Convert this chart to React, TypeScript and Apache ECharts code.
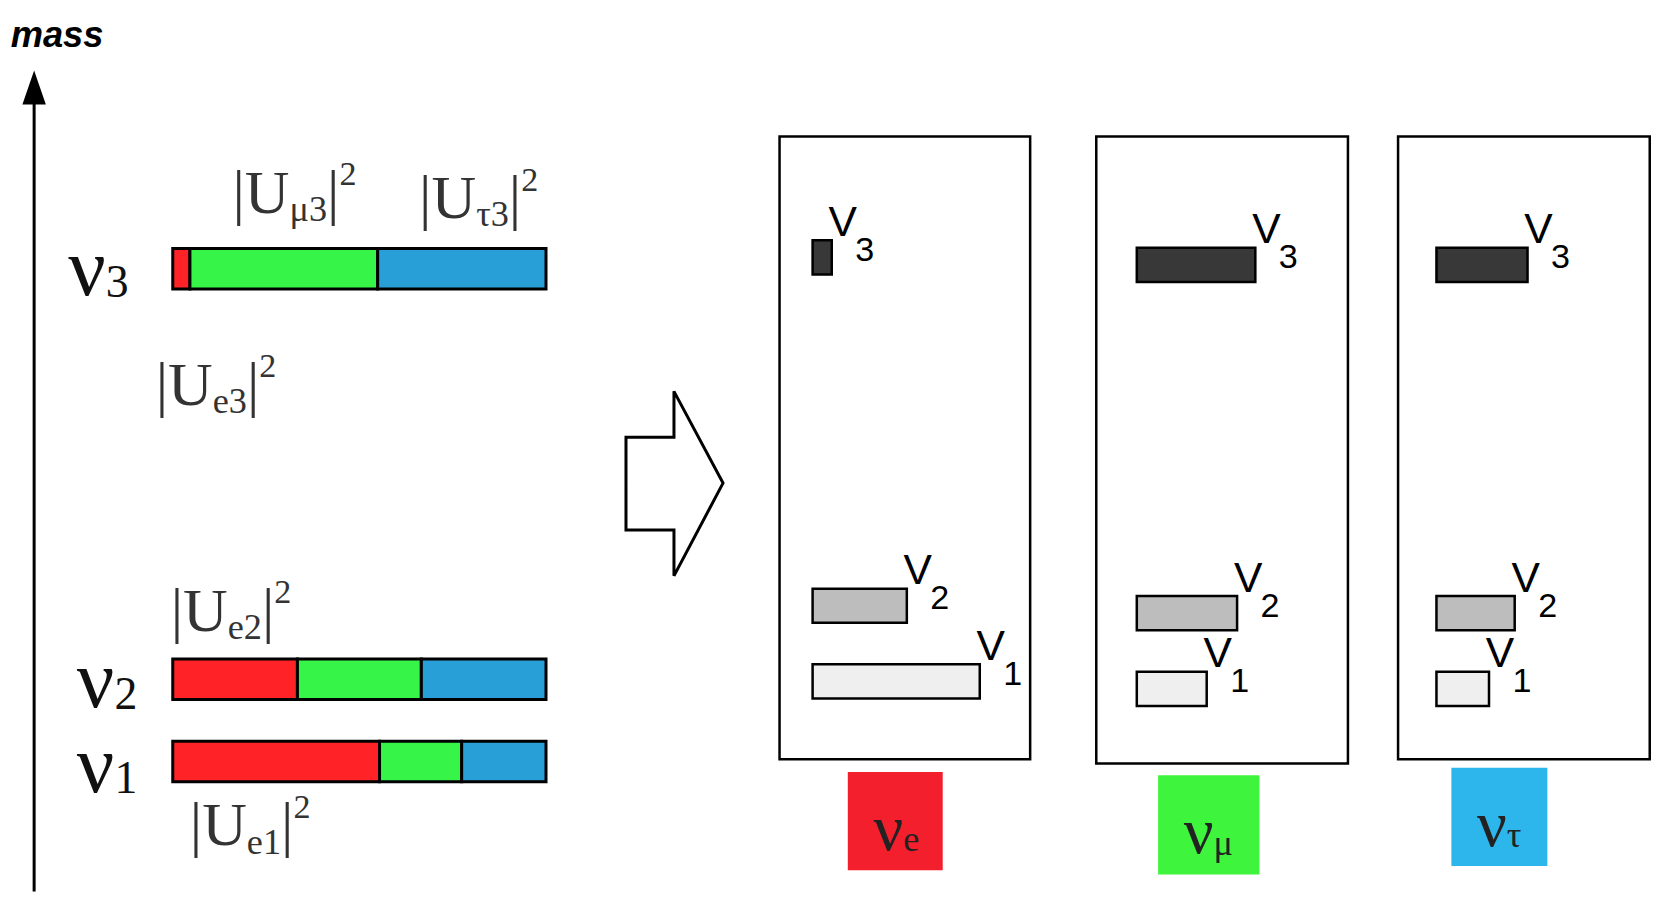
import { useEffect, useRef } from 'react'
import * as echarts from 'echarts'

// flavour order: e, mu, tau
const FLAVOUR_COLORS = ['#ff2227', '#36f548', '#289fd6']
const STATE_NAMES = ['1', '2', '3']
const LEFT_MASS = [0, 1, 6]
// left bars: |U|^2 fractions per mass state (e, mu, tau)
const LEFT_U2 = [
  [0.554, 0.22, 0.226],
  [0.334, 0.332, 0.334],
  [0.046, 0.503, 0.451],
]
// right panels: probability of each mass state inside a flavour state
const PANEL_FLAVOURS = ['e', 'μ', 'τ']
const PANEL_LEVEL = [0, 1, 5.6]
const PANEL_PROB = [
  [0.55, 0.31, 0.063],
  [0.23, 0.33, 0.39],
  [0.225, 0.335, 0.39],
]
const SHADES = ['#efefef', '#bdbdbd', '#383838']

// layout was measured on a 1566px wide copy
const S = 1670 / 1566
const k = (n: number) => n * S

const PANEL_GRID = [
  { left: 762, top: 142 },
  { left: 1066, top: 149 },
  { left: 1347, top: 149 },
]

const serif = 'Liberation Serif, Times New Roman, serif'
const sans = 'Liberation Sans, Arial, sans-serif'

const uRich = {
  m: { fontSize: k(58), lineHeight: k(66), verticalAlign: 'middle', fontFamily: serif, fill: '#333' },
  s: { fontSize: k(34), lineHeight: k(34), verticalAlign: 'bottom', fontFamily: serif, fill: '#333' },
  p: { fontSize: k(32), lineHeight: k(32), verticalAlign: 'top', fontFamily: serif, fill: '#333' },
}

function uLabel(x: number, y: number, sub: string) {
  return {
    type: 'text', x: k(x), y: k(y),
    style: { text: `{m||U}{s|${sub}}{m||}{p|2}`, rich: uRich, verticalAlign: 'middle' },
  }
}

function nuLabel(x: number, y: number, sub: string, size: number, fill = '#111') {
  const f = k(size)
  return {
    type: 'text', x: k(x), y: k(y),
    style: {
      text: `{m|ν}{s|${sub}}`, verticalAlign: 'middle',
      rich: {
        m: { fontSize: f, lineHeight: f * 0.9, verticalAlign: 'middle', fontFamily: serif, fill },
        s: { fontSize: f * 0.55, lineHeight: f * 0.5, verticalAlign: 'bottom', fontFamily: serif, fill },
      },
    },
  }
}

export default function App() {
  const ref = useRef<HTMLDivElement>(null)

  useEffect(() => {
    document.body.style.margin = '0'
    if (!ref.current) return
    const chart = echarts.init(ref.current, undefined, { renderer: 'svg' })

    const leftData: number[][] = []
    LEFT_U2.forEach((row, si) => {
      let acc = 0
      row.forEach((v, fi) => {
        leftData.push([acc, acc + v, LEFT_MASS[si], fi])
        acc += v
      })
    })

    const grids: any[] = [{ left: k(162), top: k(98), width: k(350), height: k(693) }]
    const xAxes: any[] = [{ type: 'value', min: 0, max: 1, show: false, gridIndex: 0 }]
    const yAxes: any[] = [{ type: 'value', min: -1, max: 8, show: false, gridIndex: 0 }]
    PANEL_GRID.forEach((g, i) => {
      grids.push({ left: k(g.left), top: k(g.top), width: k(285), height: k(568) })
      xAxes.push({ type: 'value', min: 0, max: 1, show: false, gridIndex: i + 1 })
      yAxes.push({ type: 'value', min: -1, max: 7, show: false, gridIndex: i + 1 })
    })

    const series: any[] = [{
      type: 'custom', xAxisIndex: 0, yAxisIndex: 0, data: leftData,
      renderItem: (_p: any, api: any) => {
        const a = api.coord([api.value(0), api.value(2)])
        const b = api.coord([api.value(1), api.value(2)])
        return {
          type: 'rect',
          shape: { x: a[0], y: a[1] - k(19), width: b[0] - a[0], height: k(38) },
          style: { fill: FLAVOUR_COLORS[api.value(3)], stroke: '#000', lineWidth: 3 },
        }
      },
    }]
    PANEL_PROB.forEach((probs, pi) => {
      series.push({
        type: 'custom', xAxisIndex: pi + 1, yAxisIndex: pi + 1,
        data: probs.map((p, si) => [p, PANEL_LEVEL[si], si]),
        renderItem: (_p: any, api: any) => {
          const a = api.coord([0, api.value(1)])
          const b = api.coord([api.value(0), api.value(1)])
          const si = api.value(2)
          const top = a[1] - k(16)
          return {
            type: 'group',
            children: [
              {
                type: 'rect',
                shape: { x: a[0], y: top, width: b[0] - a[0], height: k(32) },
                style: { fill: SHADES[si], stroke: '#000', lineWidth: 2.5 },
              },
              {
                type: 'text', x: b[0] - k(3), y: top + k(2),
                style: { text: 'V', fontSize: k(40), fontFamily: sans, fill: '#000', verticalAlign: 'bottom' },
              },
              {
                type: 'text', x: b[0] + k(22), y: top + k(24),
                style: { text: STATE_NAMES[si], fontSize: k(32), fontFamily: sans, fill: '#000', verticalAlign: 'bottom' },
              },
            ],
          }
        },
      })
    })

    const boxes = [[731, 128, 235, 584], [1028, 128, 236, 588], [1311, 128, 236, 584]]
    const squares = [[795, 724, 89, 92], [1086, 727, 95, 93], [1361, 720, 90, 92]]
    const arrow = [[587, 410], [632, 410], [632, 367], [678, 453], [632, 540], [632, 497], [587, 497]]

    chart.setOption({
      animation: false,
      grid: grids, xAxis: xAxes, yAxis: yAxes, series,
      graphic: [
        { type: 'text', x: k(10), y: k(32), style: { text: 'mass', fontSize: k(34), fontStyle: 'italic', fontWeight: 'bold', fontFamily: sans, fill: '#000', verticalAlign: 'middle' } },
        { type: 'line', shape: { x1: k(32), y1: k(836), x2: k(32), y2: k(90) }, style: { stroke: '#000', lineWidth: 3 } },
        { type: 'polygon', shape: { points: [[k(21), k(98)], [k(32), k(66)], [k(43), k(98)]] }, style: { fill: '#000' } },
        nuLabel(64, 250, '3', 78),
        nuLabel(72, 637, '2', 78),
        nuLabel(72, 716, '1', 78),
        uLabel(218, 180, 'μ3'),
        uLabel(393, 185, 'τ3'),
        uLabel(146, 360, 'e3'),
        uLabel(160, 572, 'e2'),
        uLabel(178, 773, 'e1'),
        {
          type: 'polygon',
          shape: { points: arrow.map(p => [k(p[0]), k(p[1])]) },
          style: { fill: '#fff', stroke: '#000', lineWidth: 3 },
        },
        ...boxes.map(b => ({ type: 'rect', shape: { x: k(b[0]), y: k(b[1]), width: k(b[2]), height: k(b[3]) }, style: { fill: 'none', stroke: '#000', lineWidth: 2.5 }, z: -1 })),
        ...squares.map((s, i) => ({ type: 'rect', shape: { x: k(s[0]), y: k(s[1]), width: k(s[2]), height: k(s[3]) }, style: { fill: ['#f41f2c', '#3ff43d', '#2db6ec'][i] } })),
        ...squares.map((s, i) => nuLabel(s[0] + 24, s[1] + 52, PANEL_FLAVOURS[i], 62, '#222')),
      ],
    })
    return () => chart.dispose()
  }, [])

  return <div ref={ref} style={{ width: 1670, height: 908 }} />
}
